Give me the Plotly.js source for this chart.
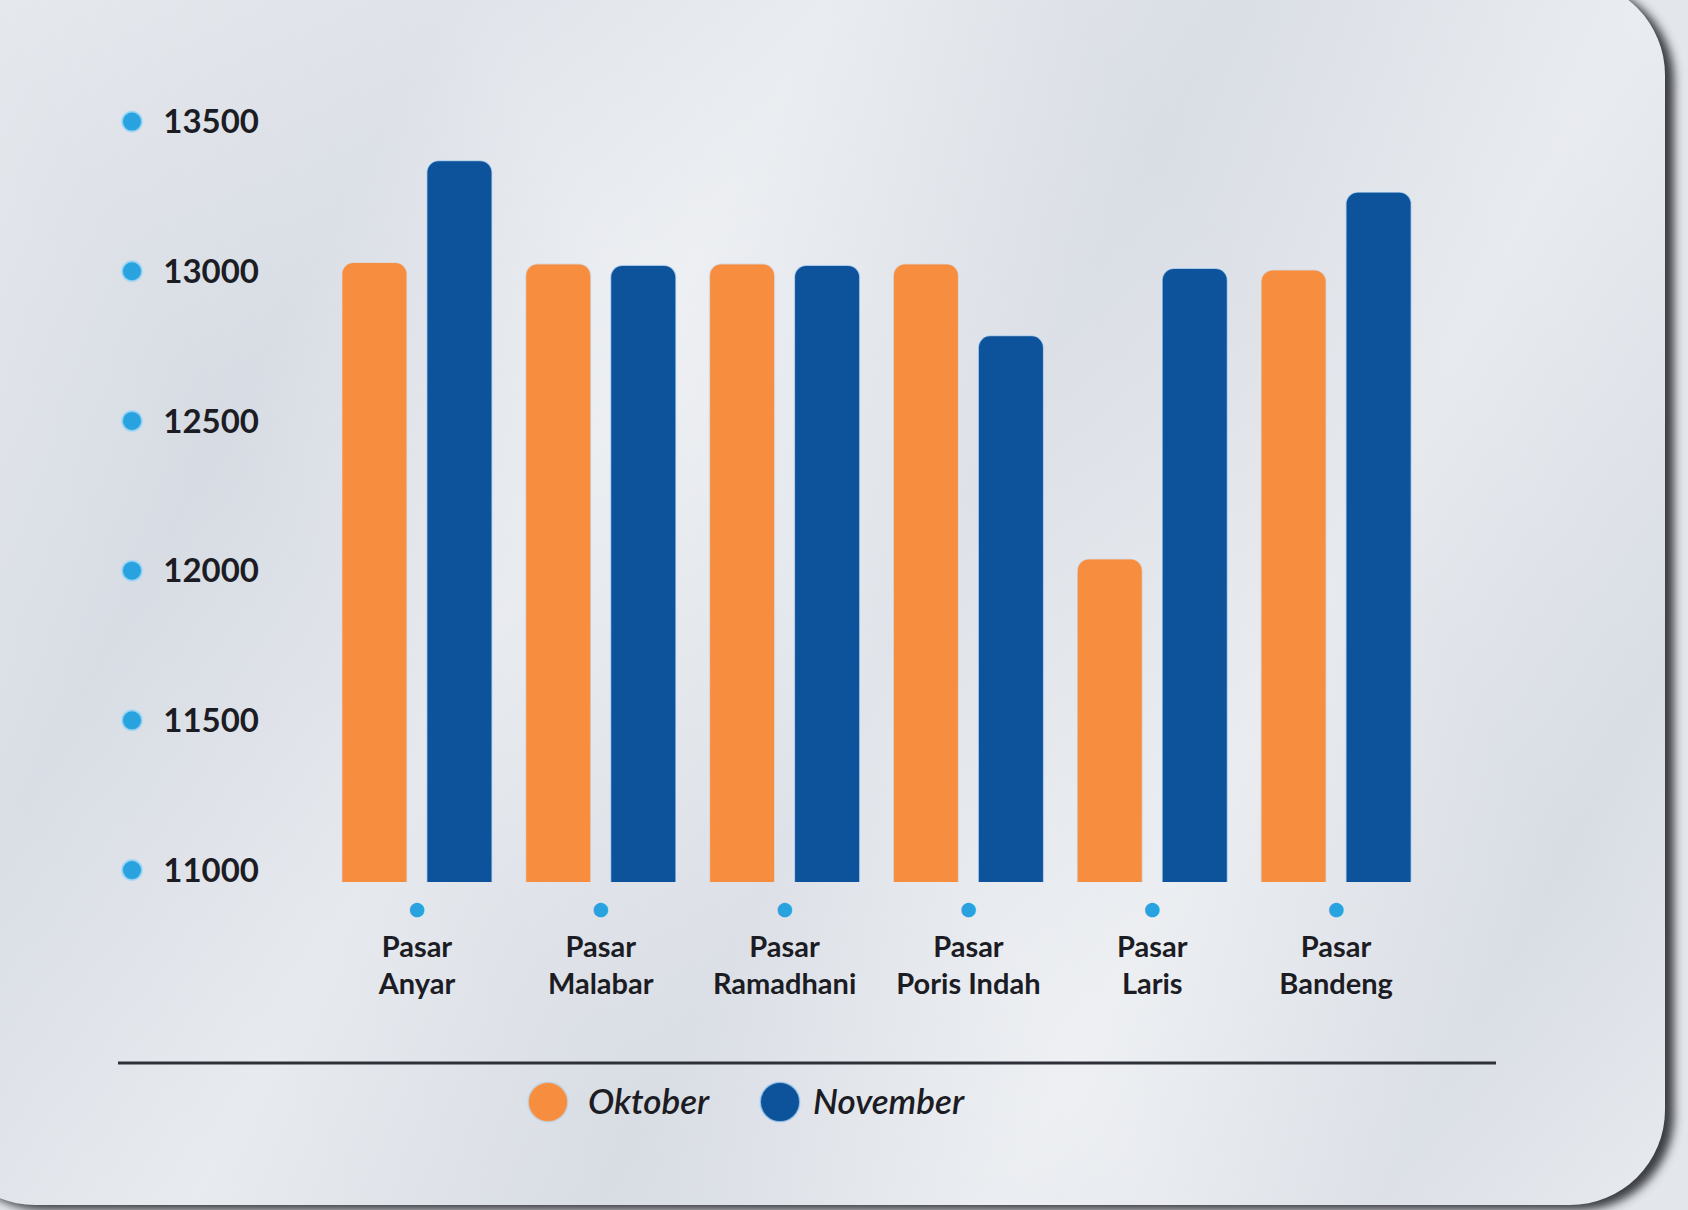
<!DOCTYPE html>
<html>
<head>
<meta charset="utf-8">
<script src="https://cdn.plot.ly/plotly-3.0.1.min.js"></script>
<style>
  html, body { margin: 0; padding: 0; width: 1688px; height: 1210px; overflow: hidden; background: #e3e6eb; }
  #card {
    position: absolute; left: -60px; top: -20px; width: 1725px; height: 1225px;
    border-radius: 95px;
    background-color: #e0e4ea;
    background-image:
      linear-gradient(118deg, rgba(255,255,255,0.35) 0%, rgba(205,210,220,0.25) 22%, rgba(255,255,255,0.30) 38%, rgba(210,214,222,0.25) 55%, rgba(255,255,255,0.30) 72%, rgba(206,211,220,0.25) 88%, rgba(255,255,255,0.3) 100%),
      linear-gradient(60deg, rgba(255,255,255,0.0) 0%, rgba(200,206,216,0.25) 30%, rgba(255,255,255,0.2) 50%, rgba(200,206,216,0.2) 75%, rgba(255,255,255,0.0) 100%);
    box-shadow: 9px 5px 10px rgba(40,42,48,0.9);
  }
  #chart { position: absolute; left: 0; top: 0; width: 1688px; height: 1210px; }
</style>
</head>
<body>
<div id="card"></div>
<div id="chart"></div>
<script>
// ---- data ----
const markets = ["Pasar Anyar", "Pasar Malabar", "Pasar Ramadhani", "Pasar Poris Indah", "Pasar Laris", "Pasar Bandeng"];
const marketLabels = ["Pasar<br>Anyar", "Pasar<br>Malabar", "Pasar<br>Ramadhani", "Pasar<br>Poris Indah", "Pasar<br>Laris", "Pasar<br>Bandeng"];
const seriesNames = ["Oktober", "November"];
const oktober = [13030, 13025, 13025, 13025, 12040, 13005];
const november = [13370, 13020, 13020, 12785, 13010, 13265];
const yTickVals = [11000, 11500, 12000, 12500, 13000, 13500];
const yTickText = ["11000", "11500", "12000", "12500", "13000", "13500"];

// ---- styles ----
const colors = ["#f78e3f", "#0c539c"];
const dotColor = "#29a3e0";
const textColor = "#1c1c24";
const fontFam = "Lato, 'Open Sans', sans-serif";

const xTickText = marketLabels.map(l => '<span style="color:' + dotColor + '">●</span><br>' + l);

const traces = [oktober, november].map((vals, i) => ({
  type: "bar",
  name: seriesNames[i],
  x: markets,
  y: vals,
  marker: { color: colors[i], cornerradius: 12, line: { color: "rgba(215,232,250,0.7)", width: 1.5 } },
  showlegend: false,
  hoverinfo: "x+y+name"
}));

const W = 1688, H = 1210, ml = 325, mr = 260, mt = 100, mb = 328;
const pw = W - ml - mr, ph = H - mt - mb;
const px = v => (v - ml) / pw;          // pixel x -> paper x
const py = v => (H - mb - v) / ph;      // pixel y -> paper y

const shapes = [];
// dots beside y tick labels
yTickVals.forEach(v => shapes.push({
  type: "circle", xref: "paper", yref: "y", xsizemode: "pixel", ysizemode: "pixel",
  xanchor: px(132), yanchor: v, x0: -10, x1: 10, y0: -10, y1: 10,
  fillcolor: dotColor, line: { color: "rgba(160,215,245,0.8)", width: 2 }
}));
// separator line
shapes.push({ type: "line", xref: "paper", yref: "paper", x0: px(118), x1: px(1496), y0: py(1063), y1: py(1063),
  line: { color: "#2e3138", width: 3 } });
// legend circles
const legendCircleX = [548, 780];
const legendTextX = [586, 811];
const annotations = [];
seriesNames.forEach((n, i) => {
  shapes.push({ type: "circle", xref: "paper", yref: "paper", xsizemode: "pixel", ysizemode: "pixel",
    xanchor: px(legendCircleX[i]), yanchor: py(1102), x0: -20, x1: 20, y0: -20, y1: 20,
    fillcolor: colors[i], line: { color: "rgba(190,220,245,0.7)", width: 2 } });
  annotations.push({ xref: "paper", yref: "paper", x: px(legendTextX[i]), y: py(1100), xanchor: "left", yanchor: "middle",
    text: n, showarrow: false, font: { family: fontFam, size: 35, color: textColor, style: "italic", weight: 600 } });
});

const layout = {
  width: W, height: H,
  margin: { l: ml, r: mr, t: mt, b: mb },
  paper_bgcolor: "rgba(0,0,0,0)",
  plot_bgcolor: "rgba(0,0,0,0)",
  bargap: 0.075,
  bargroupgap: 0.23,
  barmode: "group",
  font: { family: fontFam, color: textColor },
  xaxis: {
    type: "category", range: [-0.5, 5.5], showgrid: false, zeroline: false, showline: false, ticks: "",
    tickvals: markets, ticktext: xTickText,
    tickfont: { family: fontFam, size: 29, color: textColor, weight: 700 },
    ticklabelstandoff: 7
  },
  yaxis: {
    range: [10960, 13572], showgrid: false, zeroline: false, showline: false, ticks: "",
    tickvals: yTickVals, ticktext: yTickText,
    tickfont: { family: fontFam, size: 33, color: textColor, weight: 700 },
    ticklabelstandoff: 65
  },
  shapes: shapes,
  annotations: annotations,
  showlegend: false
};

Plotly.newPlot("chart", traces, layout, { displayModeBar: false, staticPlot: false });
</script>
</body>
</html>
